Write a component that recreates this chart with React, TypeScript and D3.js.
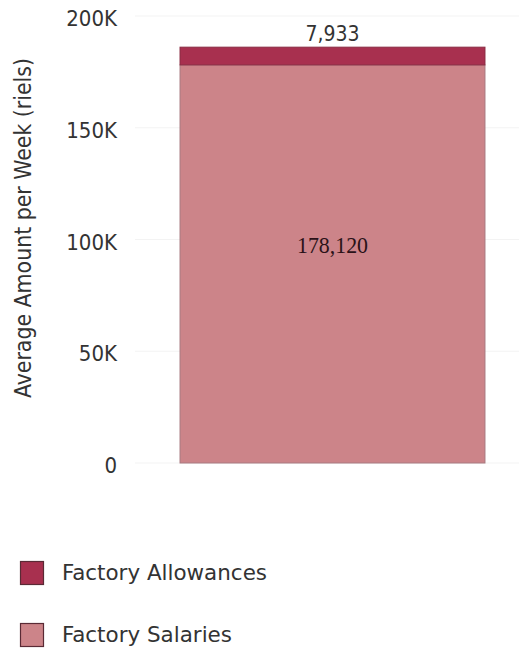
import React from "react";
import * as d3 from "d3";

const categories = ["Factory"];
const seriesNames = ["Factory Salaries", "Factory Allowances"];
const salaries = [178120];
const allowances = [7933];
const yTicks = [0, 50000, 100000, 150000, 200000];
const yTickLabels = ["0", "50K", "100K", "150K", "200K"];
const colors = ["#cc8489", "#a8304f"];

export default function App() {
  const W = 519, H = 648;
  const y = d3.scaleLinear().domain([0, 200000]).range([463, 16]);
  const x = d3.scaleBand().domain(categories).range([140, 525]).paddingInner(0.2).paddingOuter(0.105);
  const rows = categories.map((c, i) => ({ cat: c, sal: salaries[i], all: allowances[i] }));
  const stack = d3.stack<any>().keys(["sal", "all"])(rows);
  const font = "'DejaVu Sans Condensed', 'DejaVu Sans', sans-serif";
  const legendWidths = [205, 170];
  return (
    <svg width={W} height={H} style={{ position: "absolute", left: 0, top: 0 }} fontFamily={font}>
      {yTicks.map((t, i) => (
        <g key={t}>
          <line x1={135} x2={519} y1={y(t)} y2={y(t)} stroke="#f3f3f3" strokeWidth={1} />
          <text x={117} y={y(t) + 10} textAnchor="end" fontSize={22} fill="#333">{yTickLabels[i]}</text>
        </g>
      ))}
      <text transform={`translate(31,${228}) rotate(-90)`} textAnchor="middle" fontSize={23} fill="#333" textLength={340} lengthAdjust="spacingAndGlyphs">
        Average Amount per Week (riels)
      </text>
      {stack.map((s, si) =>
        s.map((d, di) => (
          <rect key={`${si}-${di}`} x={x(categories[di])!} width={x.bandwidth()}
            y={y(d[1])} height={y(d[0]) - y(d[1])} fill={colors[si]} stroke={si === 0 ? "#a87a80" : "#8a2a42"} strokeWidth={1} />
        ))
      )}
      {rows.map((r) => (
        <g key={r.cat}>
          <text x={x(r.cat)! + x.bandwidth() / 2} y={253} textAnchor="middle" fontSize={23}
            fontFamily="'Liberation Serif', serif" fill="#2a1218" textLength={71} lengthAdjust="spacingAndGlyphs">
            {d3.format(",")(r.sal)}
          </text>
          <text x={x(r.cat)! + x.bandwidth() / 2} y={y(r.sal + r.all) - 6} textAnchor="middle" fontSize={21} fill="#333">
            {d3.format(",")(r.all)}
          </text>
        </g>
      ))}
      {[seriesNames[1], seriesNames[0]].map((n, i) => (
        <g key={n} transform={`translate(20,${561 + i * 62})`}>
          <rect x={0.5} y={0.5} width={23} height={23} fill={colors[1 - i]} stroke="#5a2a35" strokeWidth={1.2} />
          <text x={42} y={19} fontSize={22} fill="#333" textLength={legendWidths[i]} lengthAdjust="spacingAndGlyphs">{n}</text>
        </g>
      ))}
    </svg>
  );
}
